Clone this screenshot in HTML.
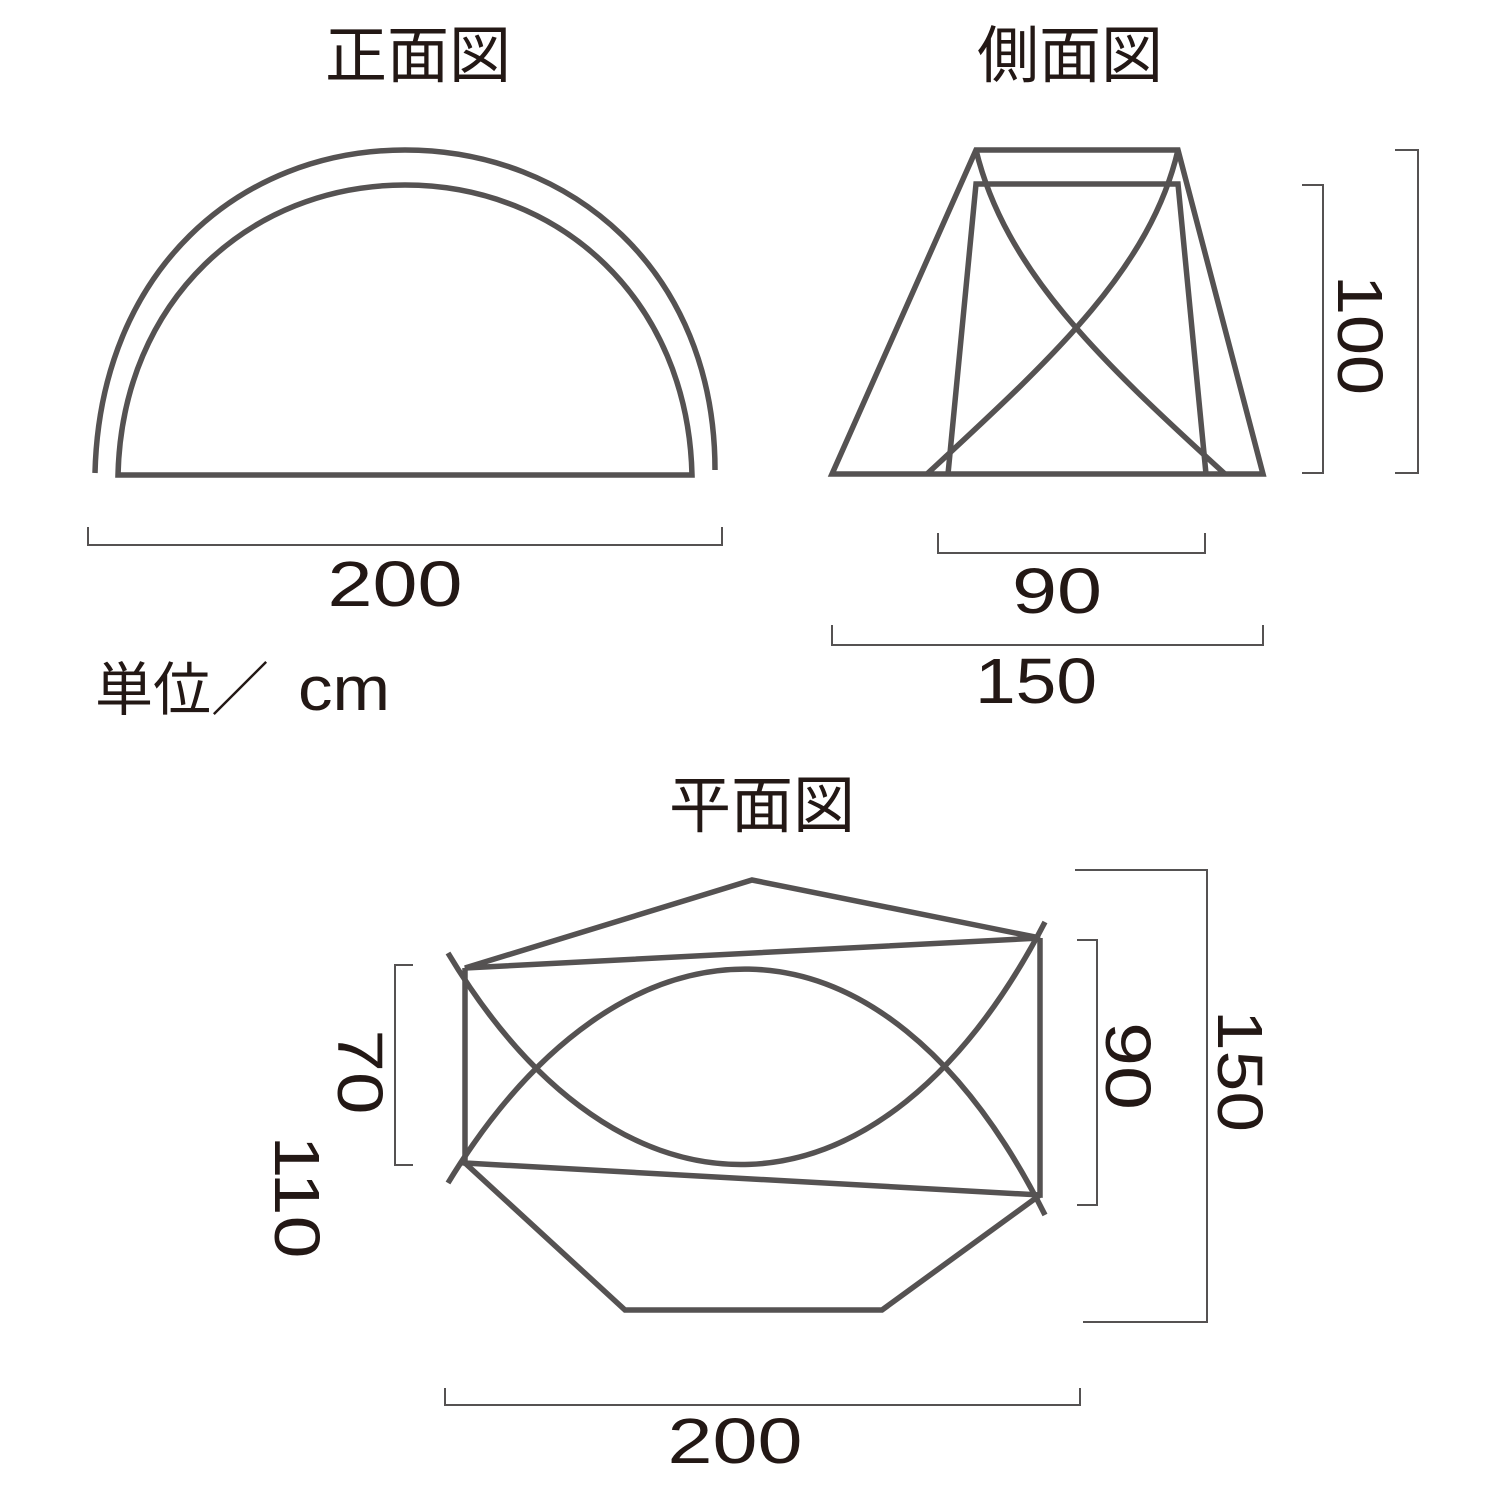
<!DOCTYPE html>
<html><head><meta charset="utf-8"><style>
html,body{margin:0;padding:0;background:#fff;}
svg{display:block;}
text{font-family:"Liberation Sans","Noto Sans CJK JP",sans-serif;fill:#231815;}
</style></head><body>
<svg width="1500" height="1500" viewBox="0 0 1500 1500" xmlns="http://www.w3.org/2000/svg">
<g fill="none" stroke="#555252" stroke-width="5.5" stroke-linejoin="miter">
<path d="M95,473 C100,270 240,150 405,150 C570,150 715,270 715,470"/>
<path d="M118,475 C122,300 250,185 405,185 C560,185 688,300 692,475 Z"/>
<path d="M832,474 L976,150 L1178,150 L1263,474 Z"/>
<path d="M948,474 L976,184 L1178,184 L1206,474"/>
<path d="M976,150 C1005,270 1100,360 1225,474"/>
<path d="M1178,150 C1150,270 1050,360 927,474"/>
<path d="M465,968 L752,880 L1040,938 Z"/>
<path d="M465,968 L465,1163 L1040,1195 L1040,938"/>
<path d="M465,1163 L625,1310 L882,1310 L1040,1195"/>
<path d="M448,953 C620,1240 880,1240 1045,922"/>
<path d="M448,1183 C620,900 880,885 1045,1215"/>
</g>
<g fill="none" stroke="#555252" stroke-width="2">
<path d="M88,527 V545 H722 V527"/>
<path d="M938,533 V553 H1205 V533"/>
<path d="M832,625 V645 H1263 V625"/>
<path d="M1395,150 H1418 V473 H1395"/>
<path d="M1302,185 H1323 V473 H1302"/>
<path d="M413,965 H395 V1165 H413"/>
<path d="M1077,940 H1097 V1205 H1077"/>
<path d="M1075,870 H1207 V1322 H1083"/>
<path d="M445,1388 V1405 H1080 V1388"/>
</g>
<g font-size="62" text-anchor="middle">
<text x="418" y="77">正面図</text>
<text x="1070" y="77">側面図</text>
<text x="762" y="827">平面図</text>
</g>
<g font-size="64" text-anchor="middle" lengthAdjust="spacingAndGlyphs">
<text x="395" y="606" textLength="135" lengthAdjust="spacingAndGlyphs">200</text>
<text x="1057" y="613" textLength="90" lengthAdjust="spacingAndGlyphs">90</text>
<text x="1036" y="703" textLength="122" lengthAdjust="spacingAndGlyphs">150</text>
<text x="735" y="1463" textLength="135" lengthAdjust="spacingAndGlyphs">200</text>
<text transform="translate(1338,335) rotate(90)" textLength="120" lengthAdjust="spacingAndGlyphs">100</text>
<text transform="translate(338,1072) rotate(90)" textLength="85" lengthAdjust="spacingAndGlyphs">70</text>
<text transform="translate(275,1197) rotate(90)" textLength="123" lengthAdjust="spacingAndGlyphs">110</text>
<text transform="translate(1106,1066) rotate(90)" textLength="88" lengthAdjust="spacingAndGlyphs">90</text>
<text transform="translate(1218,1071) rotate(90)" textLength="122" lengthAdjust="spacingAndGlyphs">150</text>
</g>
<text x="95" y="710" font-size="58">単位／</text>
<text x="298" y="710" font-size="62" textLength="92" lengthAdjust="spacingAndGlyphs">cm</text>
</svg>
</body></html>
